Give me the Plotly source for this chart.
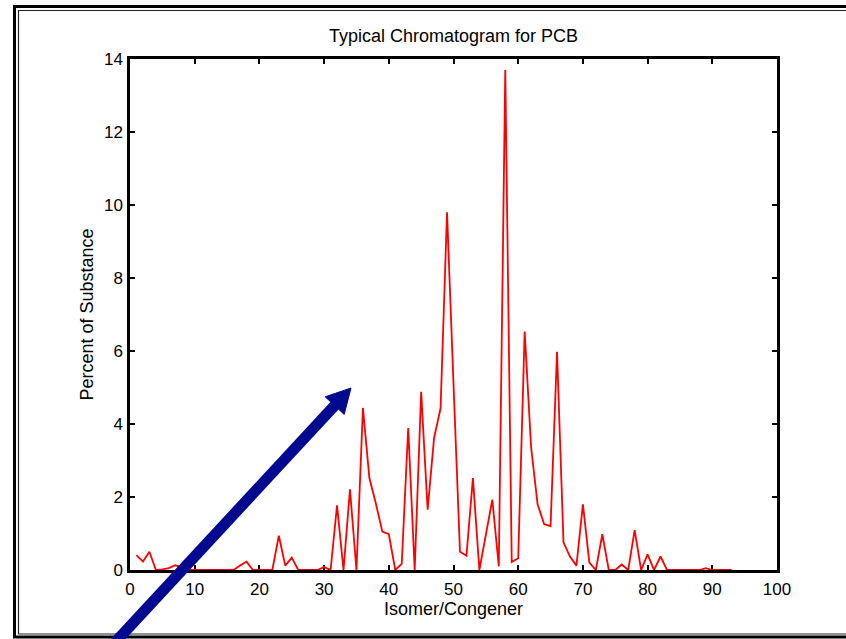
import plotly.graph_objects as go

# ---- data ----
congener = list(range(1, 94))
percent = [
    0.41, 0.23, 0.50, 0.00, 0.02, 0.05, 0.13, 0.08, 0.00, 0.00,   # 1-10
    0.00, 0.00, 0.00, 0.00, 0.00, 0.00, 0.12, 0.23, 0.00, 0.00,   # 11-20
    0.00, 0.00, 0.94, 0.12, 0.34, 0.00, 0.00, 0.00, 0.00, 0.08,   # 21-30
    0.00, 1.77, 0.00, 2.21, 0.00, 4.44, 2.52, 1.82, 1.05, 0.98,   # 31-40
    0.00, 0.17, 3.89, 0.00, 4.88, 1.65, 3.62, 4.43, 9.80, 5.10,   # 41-50
    0.50, 0.39, 2.52, 0.00, 0.95, 1.93, 0.10, 13.70, 0.22, 0.32,  # 51-60
    6.53, 3.35, 1.80, 1.26, 1.20, 5.98, 0.76, 0.37, 0.12, 1.80,   # 61-70
    0.20, 0.00, 0.98, 0.00, 0.00, 0.15, 0.00, 1.09, 0.00, 0.43,   # 71-80
    0.00, 0.37, 0.00, 0.00, 0.00, 0.00, 0.00, 0.00, 0.05, 0.00,   # 81-90
    0.00, 0.00, 0.00,                                             # 91-93
]
x_ticks = [0, 10, 20, 30, 40, 50, 60, 70, 80, 90, 100]
y_ticks = [0, 2, 4, 6, 8, 10, 12, 14]

title_text = "Typical Chromatogram for PCB"
x_title = "Isomer/Congener"
y_title = "Percent of Substance"

# ---- layout geometry (pixels) ----
W, H = 846, 639
L, R, T, B = 130, 777, 59, 570


def px(x):
    return (x - L) / (R - L)


def py(y):
    return (B - y) / (B - T)


FONT = "Liberation Sans, Arial, sans-serif"

fig = go.Figure()
fig.add_trace(go.Scatter(
    x=congener, y=percent, mode="lines",
    line=dict(color="#ff0000", width=1.8),
    showlegend=False, hoverinfo="x+y",
))

axis_common = dict(
    showline=True, linecolor="black", linewidth=2.5, mirror="ticks",
    ticks="inside", ticklen=5, tickwidth=2, tickcolor="black",
    showgrid=False, zeroline=False, layer="below traces",
    tickfont=dict(family=FONT, size=17, color="black"),
)

fig.update_xaxes(range=[0, 100], tickvals=x_ticks, ticktext=[str(v) for v in x_ticks],
                 ticklabelstandoff=2,
                 title=dict(text=x_title, font=dict(family=FONT, size=18, color="black"), standoff=3),
                 **axis_common)
fig.update_yaxes(range=[0, 14], tickvals=y_ticks, ticktext=[str(v) for v in y_ticks],
                 ticklabelstandoff=1,
                 title=dict(text=y_title, font=dict(family=FONT, size=18, color="black"), standoff=6),
                 **axis_common)

shapes = []
# outer double frame
shapes.append(dict(type="rect", xref="paper", yref="paper",
                   x0=px(14.5), x1=px(870), y0=py(637), y1=py(6.5),
                   line=dict(color="black", width=3), fillcolor="rgba(0,0,0,0)", layer="above"))
shapes.append(dict(type="rect", xref="paper", yref="paper",
                   x0=px(18.5), x1=px(870), y0=py(634), y1=py(10.5),
                   line=dict(color="#222222", width=1.2), fillcolor="rgba(0,0,0,0)", layer="above"))

# blue arrow (annotation graphic)
ARROW = "#000A90"
tip = (351, 388)
b1 = (344.2, 414.4)
b2 = (325.2, 396.8)
shapes.append(dict(type="line", xref="paper", yref="paper",
                   x0=px(108), y0=py(650), x1=px(337), y1=py(403),
                   line=dict(color=ARROW, width=11), layer="above"))
path = "M {} {} L {} {} L {} {} Z".format(
    px(tip[0]), py(tip[1]), px(b1[0]), py(b1[1]), px(b2[0]), py(b2[1]))
shapes.append(dict(type="path", xref="paper", yref="paper", path=path,
                   fillcolor=ARROW, line=dict(color=ARROW, width=1), layer="above"))

fig.update_layout(
    width=W, height=H,
    margin=dict(l=L, r=W - R, t=T, b=H - B, autoexpand=False),
    paper_bgcolor="white", plot_bgcolor="white",
    title=dict(text=title_text, x=0.5, xref="paper", xanchor="center",
               y=1 - 36 / H, yref="container", yanchor="middle",
               font=dict(family=FONT, size=18, color="black")),
    shapes=shapes,
    font=dict(family=FONT, color="black"),
)

fig.write_html("out.html", config={"displayModeBar": False})
